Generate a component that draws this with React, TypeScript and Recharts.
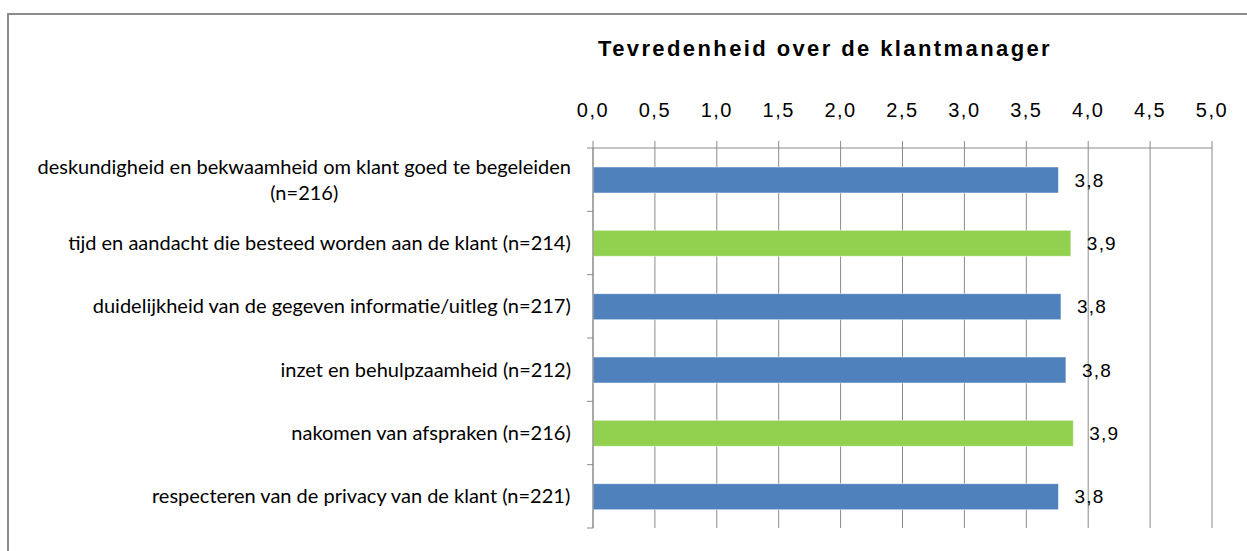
import React from 'react';
import {
  BarChart,
  Bar,
  XAxis,
  YAxis,
  CartesianGrid,
  Cell,
  LabelList,
} from 'recharts';

// chart values
const categories = [
  'deskundigheid en bekwaamheid om klant goed te begeleiden\n(n=216)',
  'tijd en aandacht die besteed worden aan de klant (n=214)',
  'duidelijkheid van de gegeven informatie/uitleg (n=217)',
  'inzet en behulpzaamheid (n=212)',
  'nakomen van afspraken (n=216)',
  'respecteren van de privacy van de klant (n=221)',
];
const scores = [3.76, 3.86, 3.78, 3.82, 3.88, 3.76];
const xTicks = [0, 0.5, 1, 1.5, 2, 2.5, 3, 3.5, 4, 4.5, 5];
const title = 'Tevredenheid over de klantmanager';

const BLUE = '#4F81BD';
const GREEN = '#92D050';
const barColors = [BLUE, GREEN, BLUE, BLUE, GREEN, BLUE];

const data = categories.map((name, i) => ({ name, score: scores[i] }));

const W = 1247;
const H = 551;
const MARGIN = { top: 108, right: 35, bottom: 23, left: 0 };
const X_AXIS_H = 40;
const Y_AXIS_W = 593;
const PLOT_H = H - MARGIN.top - MARGIN.bottom - X_AXIS_H;
const STEP = PLOT_H / categories.length;

const GRID = '#8a8a8a';
const LABEL_FONT = 'Lato, "DejaVu Sans Condensed", sans-serif';
const LABEL_SIZE = 20;
const NUM_FONT = '"Liberation Sans", Arial, sans-serif';

const fmt = (v: number) => v.toFixed(1).replace('.', ',');

let ctx: CanvasRenderingContext2D | null = null;
const measure = (t: string) => {
  if (!ctx) ctx = document.createElement('canvas').getContext('2d');
  if (!ctx) return t.length * 8;
  ctx.font = `${LABEL_SIZE}px ${LABEL_FONT}`;
  return ctx.measureText(t).width;
};

const CategoryTick = (props: any) => {
  const { x, y, payload, index } = props;
  const lines: string[] = String(payload.value).split('\n');
  const blockW = Math.max(...lines.map(measure));
  const cx = x - blockW / 2;
  const lineH = 26;
  const y0 = y - ((lines.length - 1) * lineH) / 2;
  const axisX = x + 22;
  return (
    <g>
      <line x1={axisX - 6} x2={axisX} y1={y - STEP / 2} y2={y - STEP / 2} stroke={GRID} />
      {index === categories.length - 1 && (
        <line x1={axisX - 6} x2={axisX} y1={y + STEP / 2} y2={y + STEP / 2} stroke={GRID} />
      )}
      {lines.map((l, i) => (
        <text
          key={i}
          x={cx}
          y={y0 + i * lineH}
          dy="0.35em"
          textAnchor="middle"
          fontFamily={LABEL_FONT}
          fontSize={LABEL_SIZE}
          fill="#000"
        >
          {l}
        </text>
      ))}
    </g>
  );
};

export default function App() {
  return (
    <div
      style={{
        position: 'absolute',
        left: 0,
        top: 0,
        width: W,
        height: H,
        overflow: 'hidden',
        background: '#fff',
      }}
    >
      <div
        style={{
          position: 'absolute',
          left: 7,
          top: 13,
          width: W + 20,
          height: H + 20,
          border: '2px solid #8c8c8c',
        }}
      />
      <div
        style={{
          position: 'absolute',
          left: 825,
          top: 38,
          transform: 'translateX(-50%)',
          whiteSpace: 'nowrap',
          fontFamily: NUM_FONT,
          fontWeight: 'bold',
          fontSize: 22,
          lineHeight: '22px',
          letterSpacing: 2.4,
          color: '#000',
        }}
      >
        {title}
      </div>
      <div style={{ position: 'absolute', left: 0, top: 0 }}>
        <BarChart width={W} height={H} data={data} layout="vertical" margin={MARGIN}>
          <CartesianGrid horizontal={false} stroke={GRID} />
          <XAxis
            type="number"
            orientation="top"
            height={X_AXIS_H}
            domain={[0, 5]}
            ticks={xTicks}
            tickFormatter={fmt}
            axisLine={{ stroke: GRID }}
            tickLine={{ stroke: GRID }}
            tickSize={7}
            tickMargin={24}
            tick={{ fill: '#000', fontSize: 20, fontFamily: NUM_FONT, letterSpacing: 1.5 }}
          />
          <YAxis
            type="category"
            dataKey="name"
            width={Y_AXIS_W}
            axisLine={{ stroke: GRID }}
            tickLine={false}
            tickSize={0}
            tickMargin={22}
            tick={<CategoryTick />}
            interval={0}
          />
          <Bar dataKey="score" barSize={26} isAnimationActive={false} stroke="#ffffff" strokeOpacity={0.5}>
            {data.map((_, i) => (
              <Cell key={i} fill={barColors[i]} />
            ))}
            <LabelList
              dataKey="score"
              position="right"
              offset={16}
              formatter={(v: any) => fmt(Number(v))}
              style={{ fill: '#000', fontSize: 19, fontFamily: NUM_FONT, letterSpacing: 1.2 }}
            />
          </Bar>
        </BarChart>
      </div>
    </div>
  );
}
